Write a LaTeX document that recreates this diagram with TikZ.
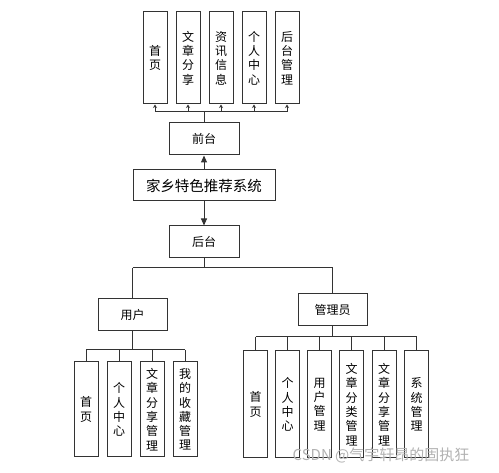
\documentclass[tikz,border=0pt]{standalone}
\usepackage{fontspec}
\setmainfont{Noto Sans CJK SC}
\usetikzlibrary{arrows.meta}
\begin{document}
\begin{tikzpicture}[x=1pt,y=-1pt,
  box/.style={draw=black!80,line width=1pt,inner sep=0pt,anchor=center,align=center,
    font=\fontsize{12}{14.3}\selectfont},
  vbox/.style={box,minimum width=24pt},
  hbox/.style={box,minimum width=70pt,minimum height=32pt,font=\fontsize{12}{14}\selectfont},
  ln/.style={draw=black!80,line width=1pt},
  smallarr/.style={ln,-{Stealth[length=3.5pt,width=4pt]}},
  bigarr/.style={ln,-{Triangle[length=7pt,width=6pt]}}
]
\useasboundingbox (0,0) rectangle (499,473);
\fill[white] (0,0) rectangle (499,473);

% top boxes
\foreach \n/\x/\t in {t1/155/首\\页, t2/188/文\\章\\分\\享, t3/221/资\\讯\\信\\息, t4/254/个\\人\\中\\心, t5/287/后\\台\\管\\理}
  \node[vbox,minimum height=92pt] (\n) at (\x,58) {\t};

\node[hbox] (qt) at (204,139) {前台};
\node[box,minimum width=142pt,minimum height=31pt,font=\fontsize{14.5}{16}\selectfont] (sys) at (204,185.5) {家乡特色推荐系统};
\node[hbox] (ht) at (204,242) {后台};

\node[hbox,minimum width=69pt] (yh) at (132.5,315) {用户};
\node[hbox,minimum width=69pt] (gly) at (332.5,310) {管理员};

% user children
\foreach \n/\x/\t in {u1/86/首\\页, u2/119/个\\人\\中\\心, u3/152/文\\章\\分\\享\\管\\理, u4/185/我\\的\\收\\藏\\管\\理}
  \node[vbox,minimum height=95pt] (\n) at (\x,409.5) {\t};

% admin children
\foreach \n/\x/\t in {a1/255.5/首\\页, a2/287.5/个\\人\\中\\心, a3/319.5/用\\户\\管\\理, a4/351.5/文\\章\\分\\类\\管\\理, a5/384/文\\章\\分\\享\\管\\理, a6/416.5/系\\统\\管\\理}
  \node[vbox,minimum height=107pt] (\n) at (\x,404.5) {\t};

% connectors top
\coordinate (tj) at (204,112);
\draw[ln] (qt.north) -- (tj);
\draw[ln] (t1.south |- tj) -- (t5.south |- tj);
\foreach \n in {t1,t2,t3,t4,t5}
  \draw[smallarr] (\n.south |- tj) -- (\n.south);

\draw[bigarr] (sys.north) -- (qt.south);
\draw[bigarr] (sys.south) -- (ht.north);

% back to user/admin
\coordinate (hj) at (204,268);
\draw[ln] (ht.south) -- (hj);
\draw[ln] (yh.north |- hj) -- (gly.north |- hj);
\draw[ln] (yh.north |- hj) -- (yh.north);
\draw[ln] (gly.north |- hj) -- (gly.north);

% user children connectors
\coordinate (uj) at (132.5,350);
\draw[ln] (yh.south) -- (uj);
\draw[ln] (u1.north |- uj) -- (u4.north |- uj);
\foreach \n in {u1,u2,u3,u4}
  \draw[ln] (\n.north |- uj) -- (\n.north);

% admin children connectors
\coordinate (aj) at (332.5,337);
\draw[ln] (gly.south) -- (aj);
\draw[ln] (a1.north |- aj) -- (a6.north |- aj);
\foreach \n in {a1,a2,a3,a4,a5,a6}
  \draw[ln] (\n.north |- aj) -- (\n.north);

% watermark
\node[text=black!30,font=\fontsize{15}{17}\selectfont,inner sep=0pt] (wm) at (381,455) {CSDN @气宇轩昂的固执狂};
\end{tikzpicture}
\end{document}
